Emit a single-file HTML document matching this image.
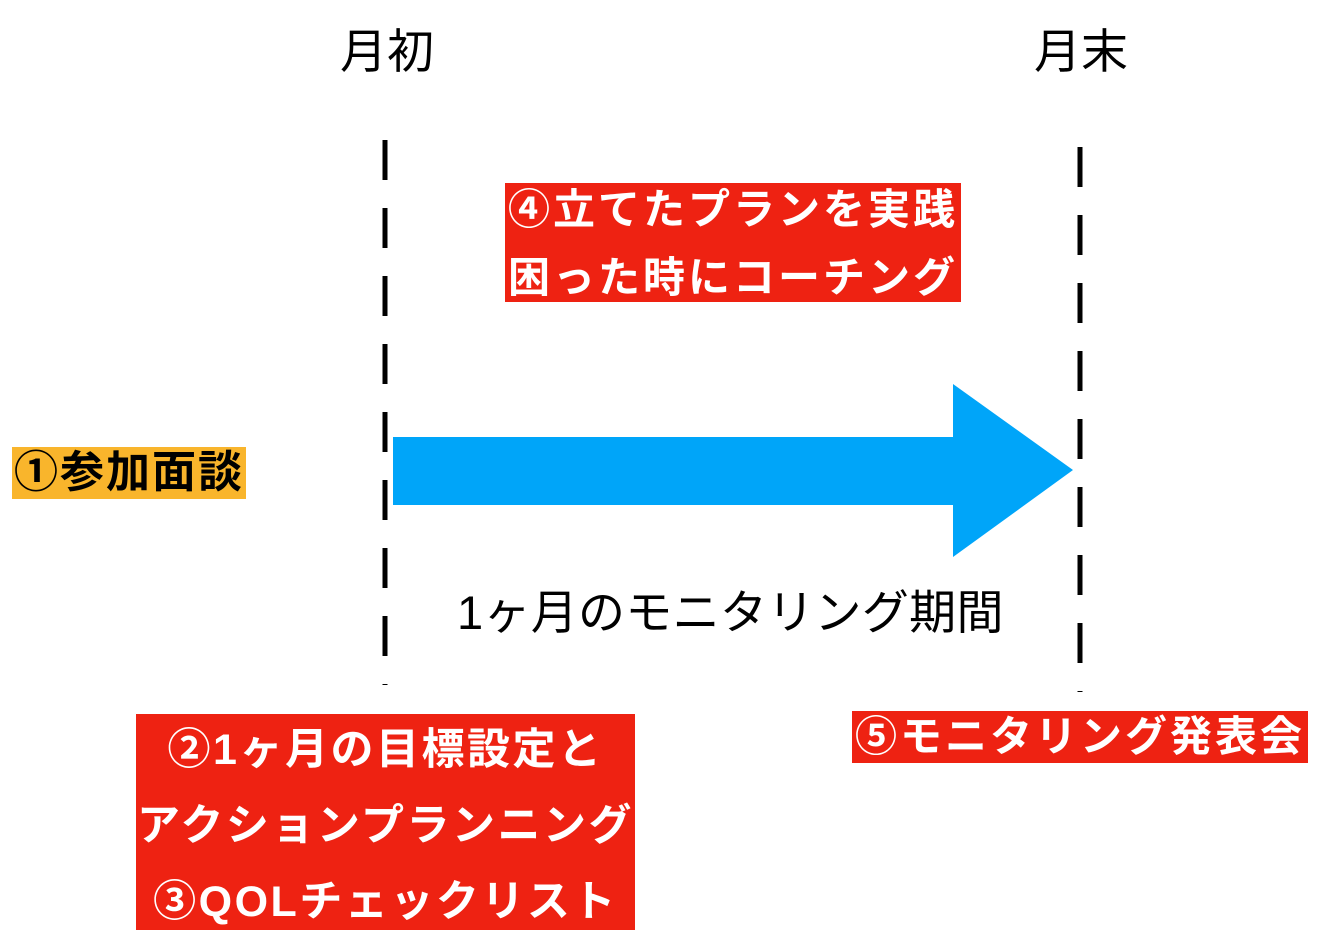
<!DOCTYPE html>
<html><head><meta charset="utf-8"><style>
html,body{margin:0;padding:0;background:#fff;}
body{width:1328px;height:948px;position:relative;overflow:hidden;font-family:"Liberation Sans","Noto Sans CJK JP",sans-serif;}
.t{position:absolute;white-space:nowrap;}
.box{position:absolute;background:#ee2212;color:#fff;font-weight:bold;text-align:center;white-space:nowrap;overflow:hidden;}
</style></head><body>
<div class="t" style="left:340px;top:22px;font-size:47px;line-height:60px;">月初</div>
<div class="t" style="left:1034px;top:22px;font-size:47px;line-height:60px;">月末</div>
<svg width="1328" height="948" style="position:absolute;left:0;top:0">
<line x1="385" y1="140" x2="385" y2="685" stroke="#000" stroke-width="5" stroke-dasharray="40,28"/>
<line x1="1080" y1="147" x2="1080" y2="692" stroke="#000" stroke-width="5" stroke-dasharray="40,28"/>
<polygon points="393,437 953,437 953,384 1073,470 953,557 953,505 393,505" fill="#00a5f9"/>
</svg>
<div class="box" style="left:505px;top:183px;width:456px;height:119px;font-size:42px;line-height:68px;letter-spacing:3px;"><div style="margin-top:-7px">④立てたプランを実践<br>困った時にコーチング</div></div>
<div class="box" style="left:12px;top:447px;width:234px;height:52px;background:#f9b52c;color:#000;font-size:44px;line-height:52px;letter-spacing:2px;">①参加面談</div>
<div class="t" style="left:457px;top:583px;font-size:47px;line-height:60px;letter-spacing:0.3px;">1ヶ月のモニタリング期間</div>
<div class="box" style="left:136px;top:714px;width:499px;height:216px;font-size:43px;line-height:76px;letter-spacing:2.5px;"><div style="margin-top:-2px">②1ヶ月の目標設定と<br>アクションプランニング<br>③QOLチェックリスト</div></div>
<div class="box" style="left:852px;top:711px;width:456px;height:52px;font-size:42px;line-height:52px;letter-spacing:3px;">⑤モニタリング発表会</div>
</body></html>
